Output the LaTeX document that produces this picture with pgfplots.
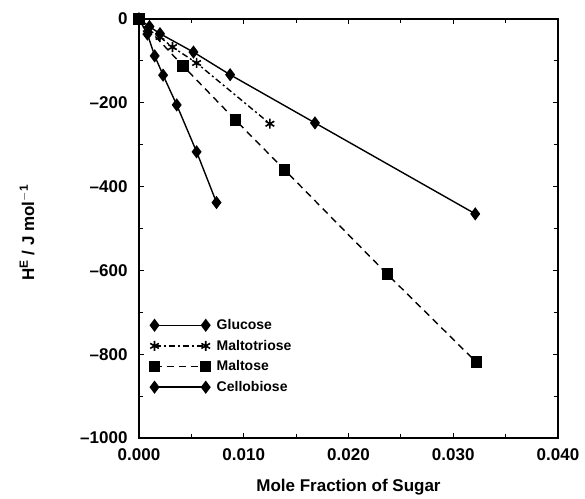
\documentclass[border=0pt]{standalone}
\usepackage{pgfplots}
\pgfplotsset{compat=1.18}
\usepackage{fontspec}
\setmainfont{Liberation Sans}

\begin{document}
\begin{tikzpicture}
\begin{axis}[
    scale only axis,
    width=419pt, height=419pt,
    xmin=0, xmax=0.04,
    ymin=-1000, ymax=0,
    scaled x ticks=false,
    xtick={0,0.01,0.02,0.03,0.04},
    xticklabels={0.000,0.010,0.020,0.030,0.040},
    ytick={-1000,-800,-600,-400,-200,0},
    yticklabels={\textendash1000,\textendash800,\textendash600,\textendash400,\textendash200,0},
    minor x tick num=1,
    minor y tick num=1,
    tick align=inside,
    major tick length=5pt,
    minor tick length=4pt,
    axis line style={line width=1.6pt},
    every tick/.style={line width=1.2pt, black},
    tick label style={font=\fontsize{17}{19}\selectfont\bfseries},
    yticklabel style={xshift=-8pt},
    xticklabel style={yshift=-7pt},
    xlabel={Mole Fraction of Sugar},
    ylabel={H$^{\mathbf{E}}$ / J mol$^{\mathbf{-1}}$},
    xlabel style={font=\fontsize{17}{19}\selectfont\bfseries, yshift=-12pt},
    ylabel style={font=\fontsize{17}{19}\selectfont\bfseries,
        at={(axis description cs:-0.267,0.49)}, anchor=center},
    legend style={at={(axis cs:0.0007,-707)}, anchor=north west, draw=none, fill=none,
        font=\fontsize{14}{16}\selectfont\bfseries, row sep=5pt},
    legend cell align=left,
    legend image code/.code={\draw[#1] plot coordinates {(0cm,0cm)(1.8cm,0cm)};},
    every axis plot/.append style={line width=1.4pt, black},
]
% Glucose
\addplot[solid, mark=diamond*, mark size=5.5pt] coordinates {
    (0,0)(0.001,-18)(0.002,-35)(0.0052,-79)(0.0087,-133)(0.0168,-248)(0.0321,-465)
};
\addlegendentry{\hskip4pt Glucose}
% Maltotriose
\addplot[dash pattern=on 6pt off 3pt on 2pt off 3pt, mark=asterisk, mark size=5pt,
    mark options={solid, line width=1.6pt}] coordinates {
    (0,0)(0.0008,-24)(0.002,-43)(0.0032,-67)(0.0055,-105)(0.0125,-250)
};
\addlegendentry{\hskip4pt Maltotriose}
% Maltose
\addplot[dash pattern=on 7pt off 5pt, mark=square*, mark size=5pt, mark options={solid}] coordinates {
    (0,0)(0.0042,-112)(0.0092,-241)(0.0139,-360)(0.0237,-609)(0.0322,-819)
};
\addlegendentry{\hskip4pt Maltose}
% Cellobiose
\addplot[solid, mark=diamond*, mark size=5.5pt] coordinates {
    (0,0)(0.0008,-36)(0.0015,-88)(0.0023,-134)(0.0036,-205)(0.0055,-317)(0.0074,-438)
};
\addlegendentry{\hskip4pt Cellobiose}
\end{axis}
% page margins as in the reference
\path (current axis.south west) ++(-139pt,-58pt) rectangle ([xshift=27pt,yshift=19pt]current axis.north east);
\end{tikzpicture}
\end{document}
